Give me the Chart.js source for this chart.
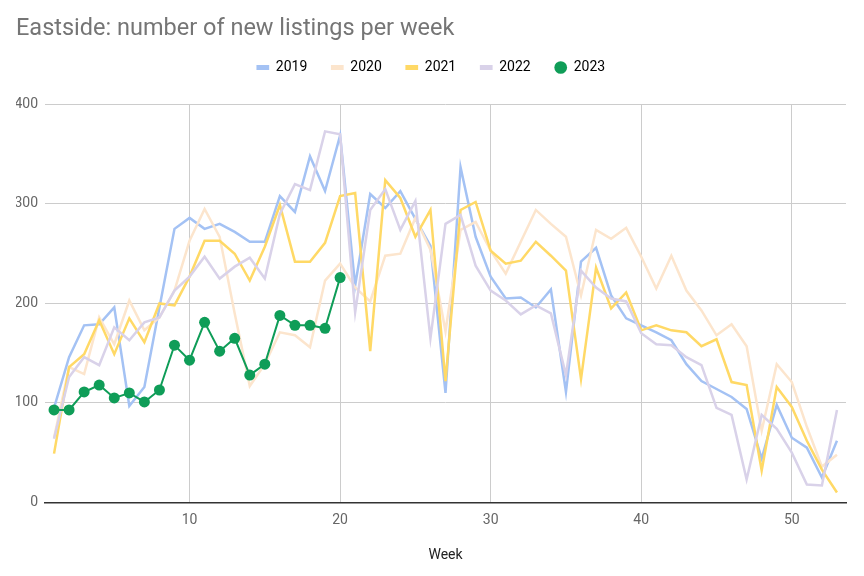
<!DOCTYPE html>
<html>
<head>
<meta charset="utf-8">
<script src="https://cdn.jsdelivr.net/npm/chart.js@4"></script>
<style>
    html, body { margin: 0; padding: 0; background: #ffffff; }
    #wrap { width: 864px; height: 576px; }
</style>
</head>
<body>
<div id="wrap"><canvas id="chart"></canvas></div>
<script>
// Weekly new listings, Eastside

const weeks = [];
for (let w = 1; w <= 53; w++) weeks.push(w);

const yearLabels = ['2019', '2020', '2021', '2022', '2023'];

const listings2019 = [95, 146, 178, 179, 196, 97, 116, 196, 275, 286, 275, 280, 272, 262, 262, 308, 292, 348, 313, 369,
    218, 310, 296, 313, 285, 258, 110, 337, 267, 227, 205, 206, 196, 214, 111, 242, 256, 208, 185, 178,
    171, 163, 139, 122, 114, 106, 94, 44, 98, 65, 55, 25, 62];
const listings2020 = [65, 136, 129, 186, 159, 203, 173, 186, 213, 263, 295, 267, 190, 117, 139, 171, 168, 156, 223, 240,
    216, 202, 248, 250, 286, 254, 172, 274, 282, 253, 230, 262, 294, 280, 267, 208, 274, 265, 276, 247,
    215, 248, 213, 193, 168, 179, 157, 72, 139, 121, 76, 36, 48];
const listings2021 = [49, 136, 149, 183, 149, 185, 161, 200, 198, 227, 263, 263, 250, 223, 257, 299, 242, 242, 261, 308,
    311, 152, 324, 306, 267, 294, 122, 294, 302, 253, 240, 243, 262, 248, 233, 124, 236, 195, 211, 173,
    178, 173, 171, 157, 164, 121, 118, 32, 116, 96, 62, 33, 10];
const listings2022 = [64, 126, 146, 138, 176, 163, 181, 186, 213, 227, 247, 225, 237, 246, 225, 290, 320, 314, 373, 370,
    191, 294, 315, 274, 303, 165, 280, 289, 238, 213, 203, 189, 198, 190, 128, 233, 216, 205, 202, 170,
    159, 158, 146, 138, 95, 88, 23, 88, 74, 50, 18, 17, 93];
const listings2023 = [93, 93, 111, 118, 105, 110, 101, 113, 158, 143, 181, 152, 165, 128, 139, 188, 178, 178, 175, 226];

const yTicks = [0, 100, 200, 300, 400];
const xTicks = [10, 20, 30, 40, 50];

const colors = ['#a4c2f4', '#fce5cd', '#ffd966', '#d9d2e9', '#0f9d58'];

function toPoints(values) {
    return values.map((v, i) => ({ x: weeks[i], y: v }));
}

const series = [listings2019, listings2020, listings2021, listings2022, listings2023];

const datasets = series.map((values, idx) => {
    const isCurrent = idx === 4;
    return {
        label: yearLabels[idx],
        data: toPoints(values),
        borderColor: colors[idx],
        backgroundColor: colors[idx],
        borderWidth: isCurrent ? 2 : 2.5,
        pointRadius: isCurrent ? 5.5 : 0,
        pointHoverRadius: isCurrent ? 5.5 : 0,
        pointBorderWidth: 0,
        tension: 0,
        fill: false,
        order: 5 - idx
    };
});

// empty box between the legend and the plot
const legendSpacer = {
    id: 'legendSpacer',
    beforeInit(chart) {
        Chart.layouts.addBox(chart, {
            position: 'top',
            weight: 0,
            fullSize: true,
            options: {},
            isHorizontal() { return true; },
            update(maxWidth) {
                this.width = maxWidth;
                this.height = 20;
            },
            draw() {}
        });
    }
};

const fontFamily = 'Roboto, "Noto Sans", sans-serif';

new Chart(document.getElementById('chart').getContext('2d'), {
    type: 'line',
    data: { datasets: datasets },
    plugins: [legendSpacer],
    options: {
        responsive: true,
        maintainAspectRatio: false,
        animation: false,
        layout: { padding: { left: 16, right: 18, top: 0, bottom: 12 } },
        plugins: {
            title: {
                display: true,
                text: 'Eastside: number of new listings per week',
                align: 'start',
                color: '#757575',
                font: { family: fontFamily, size: 23.5, weight: 'normal', lineHeight: 0.66 },
                padding: { top: 21, bottom: 0 }
            },
            legend: {
                display: true,
                position: 'top',
                align: 'center',
                labels: {
                    usePointStyle: true,
                    boxWidth: 12,
                    boxHeight: 9,
                    padding: 24,
                    color: '#666666',
                    font: { family: fontFamily, size: 14 },
                    generateLabels: function(chart) {
                        return chart.data.datasets.map((ds, i) => ({
                            text: ds.label,
                            fillStyle: ds.borderColor,
                            strokeStyle: ds.borderColor,
                            lineWidth: i === 4 ? 0 : 5,
                            pointStyle: i === 4 ? 'circle' : 'line',
                            hidden: false,
                            datasetIndex: i
                        }));
                    }
                }
            },
            tooltip: { enabled: false }
        },
        scales: {
            x: {
                type: 'linear',
                min: 0.4,
                max: 53.6,
                afterBuildTicks: function(scale) {
                    scale.ticks = xTicks.map(v => ({ value: v }));
                },
                grid: { color: '#cccccc', lineWidth: 1, drawTicks: false },
                border: { display: true, color: '#333333', width: 1.5 },
                ticks: {
                    color: '#666666',
                    padding: 10,
                    font: { family: fontFamily, size: 14 }
                },
                title: {
                    display: true,
                    text: 'Week',
                    color: '#222222',
                    font: { family: fontFamily, size: 14 },
                    padding: { top: 8, bottom: 0 }
                }
            },
            y: {
                min: 0,
                max: 400,
                afterBuildTicks: function(scale) {
                    scale.ticks = yTicks.map(v => ({ value: v }));
                },
                afterFit: function(scale) {
                    scale.width = 29;
                },
                grid: {
                    color: ctx => ctx.tick && ctx.tick.value === 0 ? 'rgba(0,0,0,0)' : '#cccccc',
                    lineWidth: 1,
                    drawTicks: false
                },
                border: { display: false },
                ticks: {
                    color: '#666666',
                    padding: 7,
                    font: { family: fontFamily, size: 14 }
                }
            }
        }
    }
});
</script>
</body>
</html>
